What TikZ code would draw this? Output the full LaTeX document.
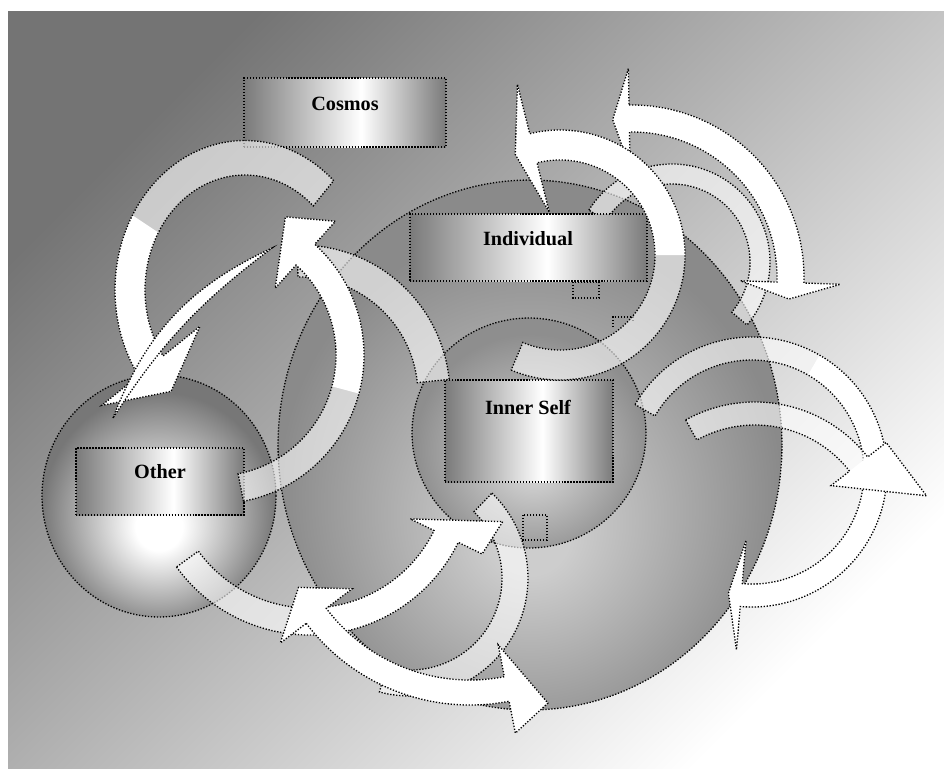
\documentclass[tikz,border=0pt]{standalone}
\usepackage{fontspec}
\setmainfont{Liberation Serif}
\usetikzlibrary{shapes.geometric}

\definecolor{bgdark}{HTML}{747474}
\definecolor{bgmid}{HTML}{BCBCBC}
\definecolor{boxdark}{HTML}{7A7A7A}
\definecolor{worldlight}{HTML}{CDCDCD}
\definecolor{worldrim}{HTML}{8A8A8A}
\definecolor{selflight}{HTML}{DCDCDC}
\definecolor{selfrim}{HTML}{8E8E8E}
\definecolor{otherrim}{HTML}{777777}

\pgfdeclarehorizontalshading{boxshade}{100bp}{color(0bp)=(boxdark); color(25bp)=(boxdark); color(54bp)=(white); color(75bp)=(boxdark); color(100bp)=(boxdark)}
\pgfdeclareradialshading{worldshade}{\pgfpoint{0bp}{-9bp}}{color(0bp)=(worldlight); color(4bp)=(worldlight); color(25bp)=(worldrim); color(50bp)=(worldrim)}
\pgfdeclareradialshading{selfshade}{\pgfpoint{1bp}{-7bp}}{color(0bp)=(selflight); color(25bp)=(selfrim); color(50bp)=(selfrim)}
\pgfdeclareradialshading{othershade}{\pgfpoint{0bp}{-7bp}}{color(0bp)=(white); color(5bp)=(white); color(25bp)=(otherrim); color(50bp)=(otherrim)}

% head spec: half width / angle to tip / radial shift of tip
\def\parsehead#1/#2/#3\relax{\def\hdw{#1}\def\hdd{#2}\def\hdr{#3}}

\newcommand{\arcshape}[2]{%
  \path[#1] (#2:\Aout) arc[start angle=#2, end angle=\Aend, radius=\Aout]
    -- (\Aend:\Eout) -- (\Etip:\Erad) -- (\Aend:\Ein) -- (\Aend:\Ain)
    arc[start angle=\Aend, end angle=#2, radius=\Ain]
    -- (#2:\Sin) -- ({#2-\Dir*\Sd}:\Srad) -- (#2:\Sout) -- cycle;}

% [#1 yscale] #2 centre, #3 inner r, #4 outer r, #5 start, #6 solid from, #7 end, #8 end head, #9 start head
\newcommand{\arcarrow}[9][1]{%
  \pgfmathsetmacro\Ain{#3}\pgfmathsetmacro\Aout{#4}
  \pgfmathsetmacro\Rmid{(#3+#4)/2}
  \pgfmathsetmacro\Aend{#7}
  \pgfmathsetmacro\Dir{(#7>#5)*2-1}
  \parsehead#8\relax
  \pgfmathsetmacro\Eout{\Rmid+\hdw}\pgfmathsetmacro\Ein{\Rmid-\hdw}
  \pgfmathsetmacro\Etip{#7+\Dir*\hdd}\pgfmathsetmacro\Erad{\Rmid+\hdr}
  \parsehead#9\relax
  \pgfmathsetmacro\Sout{\Rmid+\hdw}\pgfmathsetmacro\Sin{\Rmid-\hdw}
  \pgfmathsetmacro\Sd{\hdd}\pgfmathsetmacro\Srad{\Rmid+\hdr}
  \begin{scope}[shift={(#2)}, yscale=#1]
    \arcshape{fill=white, fill opacity=.6}{#5}
    \arcshape{fill=white}{#6}
    \arcshape{arrowline}{#5}
  \end{scope}}

\begin{document}
\begin{tikzpicture}[x=0.02cm,y=-0.02cm]
\tikzstyle{dotline} = [draw=black, line width=0.75pt, dash pattern=on 0.75pt off 0.95pt]
\tikzstyle{arrowline} = [dotline]
\tikzstyle{labelbox} = [rectangle, dotline, shade, shading=boxshade, inner sep=0pt]
\tikzstyle{sphere} = [ellipse, dotline, shade, inner sep=0pt]
\tikzstyle{boxtext} = [font=\fontsize{11.5}{13}\selectfont\bfseries, inner sep=0pt]

\useasboundingbox (0,0) rectangle (944,779);
\shade[top color=bgdark, middle color=bgmid, bottom color=white, shading angle=45] (8,11) rectangle (944,768);

% spheres
\node (world) at (530,445) [sphere, shading=worldshade, minimum width=10.08cm, minimum height=10.6cm] {};
\node (selfball) at (529,433) [sphere, shading=selfshade, minimum width=4.68cm, minimum height=4.6cm] {};
\node (otherball) at (159,496) [sphere, shading=othershade, minimum width=4.68cm, minimum height=4.84cm] {};

% little boxes
\draw[dotline] (573,282) rectangle (599,298);
\draw[dotline] (523,515) rectangle (547,540);
\draw[dotline] (613,327) -- (613,317) -- (633,317) -- (633,322);

% arch behind the individual box
\arcarrow{672,262}{78}{98}{212}{400}{400}{0/0/0}{0/0/0}

% boxes
\node (individual) at (528.5,247.5) [labelbox, minimum width=4.74cm, minimum height=1.34cm] {};
\node (cosmos) at (345,112.5) [labelbox, minimum width=4.04cm, minimum height=1.38cm] {};
\node (innerself) at (529,431) [labelbox, minimum width=3.36cm, minimum height=2.04cm] {};
\node (other) at (160,481.5) [labelbox, minimum width=3.36cm, minimum height=1.34cm] {};
\node (cosmostext) at (345,104) [boxtext] {Cosmos};
\node (individualtext) at (528,239) [boxtext] {Individual};
\node (innerselftext) at (528,407) [boxtext] {Inner Self};
\node (othertext) at (160,472) [boxtext] {Other};

% arrows
\arcarrow{410,578}{92}{118}{-46}{105}{105}{0/0/0}{0/0/0}
\arcarrow{752,472}{112}{135}{-150}{-60}{95}{55/6/0}{0/0/0}
\arcarrow{755,545}{120}{143}{-119}{-38}{-38}{35/22/47}{0/0/0}
\arcarrow{632,277}{145}{172}{-91}{-91}{2}{50/6/0}{50/6/0}
\arcarrow{560,255}{95}{125}{113}{0}{-104}{66/10/0}{0/0/0}
\arcarrow{300,395}{118}{150}{-91}{-6}{-6}{0/0/0}{0/0/0}
\arcarrow[1.15]{245,290}{100}{130}{-47}{-150}{-215}{60/15/0}{0/0/0}
\coordinate (h1) at (113,418);
\coordinate (h2) at (272,248);
\path[arrowline, fill=white] (h1) to[bend left=22] (h2) to[bend right=10] (h1) -- cycle;
\arcarrow{215,355}{121}{149}{79}{15}{-48}{45/15/20}{0/0/0}
\arcarrow{310,470}{138}{165}{144}{95}{26}{40/11/48}{0/0/0}
\arcarrow{470,500}{180}{205}{143}{143}{79}{45/10/25}{45/10/0}

\end{tikzpicture}
\end{document}
